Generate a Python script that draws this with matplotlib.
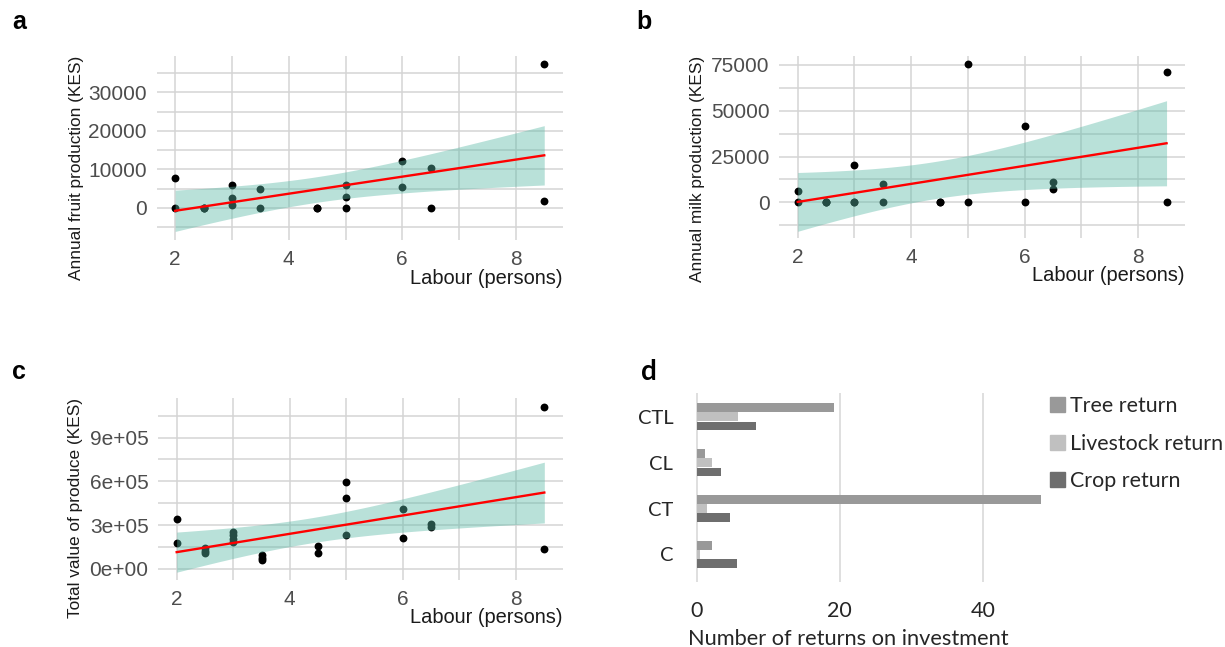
import math
import numpy as np
import matplotlib
matplotlib.use("Agg")
import matplotlib.pyplot as plt
from matplotlib.patches import Patch

# ---- data (overlapping zeros included) ----
# a: annual fruit production vs labour
fruit_x = [2, 2, 2.5, 2.5, 2.5, 3, 3, 3, 3.5, 3.5, 4.5, 4.5,
           5, 5, 5, 6, 6, 6.5, 6.5, 8.5, 8.5]
fruit_y = [7800, 0, 0, 0, 0, 5900, 2600, 700, 4860, 0, 0, 0,
           5900, 2860, 0, 12200, 5460, 10400, 0, 37300, 1730]

# b: annual milk production vs labour
milk_x = [2, 2, 2.5, 2.5, 2.5, 3, 3, 3, 3.5, 3.5, 4.5, 4.5,
          5, 5, 6, 6, 6.5, 6.5, 8.5, 8.5]
milk_y = [6200, 0, 0, 0, 0, 20400, 0, 0, 9800, 0, 0, 0,
          75400, 0, 41700, 0, 11300, 7100, 71400, 0]

# c: total value of produce vs labour
total_x = [2, 2, 2.5, 2.5, 2.5, 3, 3, 3, 3, 3.5, 3.5, 3.5, 4.5, 4.5,
           5, 5, 5, 6, 6, 6.5, 6.5, 8.5, 8.5]
total_y = [343000, 174000, 140000, 120000, 105000, 250000, 230000, 205000,
           180000, 95000, 75000, 60000, 156000, 105000, 598000, 488000,
           231000, 410000, 213000, 310000, 285000, 1108000, 133000]

# d: number of returns on investment
systems = ["C", "CT", "CL", "CTL"]
tree_ret = [2.2, 48.1, 1.2, 19.2]
livestock_ret = [0.45, 1.5, 2.1, 5.8]
crop_ret = [5.7, 4.7, 3.4, 8.3]

RIBBON = "#5ab8a5"
GRID = "#d4d4d4"
TICK_GREY = "#4d4d4d"
LATO = ["Lato", "DejaVu Sans"]


def t_crit(df, p=0.975):
    # student t quantile by numeric integration (no scipy here)
    ts = np.linspace(0, 12, 24001)
    c = math.gamma((df + 1) / 2) / (math.sqrt(df * math.pi) * math.gamma(df / 2))
    pdf = c * (1 + ts**2 / df) ** (-(df + 1) / 2)
    cdf = 0.5 + np.concatenate([[0], np.cumsum((pdf[1:] + pdf[:-1]) / 2 * np.diff(ts))])
    return np.interp(p, cdf, ts)


def lm_band(x, y, xs):
    x = np.asarray(x, float)
    y = np.asarray(y, float)
    n = len(x)
    b, a = np.polyfit(x, y, 1)
    fit = a + b * xs
    s = np.sqrt(np.sum((y - (a + b * x))**2) / (n - 2))
    se = s * np.sqrt(1 / n + (xs - x.mean())**2 / np.sum((x - x.mean())**2))
    t = t_crit(n - 2)
    return fit, fit - t * se, fit + t * se


def scatter_panel(ax, x, y, ylim, major, labels, ylabel, ylab_x):
    xs = np.linspace(min(x), max(x), 80)
    fit, lo, hi = lm_band(x, y, xs)
    ax.scatter(x, y, s=32, color="black", linewidths=0, zorder=2)
    ax.fill_between(xs, lo, hi, color=RIBBON, alpha=0.42, linewidth=0, zorder=3)
    ax.plot(xs, fit, color="red", lw=1.7, zorder=4)

    ax.set_xlim(1.675, 8.825)
    ax.set_ylim(*ylim)
    ax.set_xticks([2, 4, 6, 8])
    ax.set_xticks([3, 5, 7], minor=True)
    ax.set_yticks(major)
    ax.set_yticklabels(labels)
    step = major[1] - major[0]
    minor = np.arange(major[0] - step / 2, ylim[1], step)
    ax.set_yticks(minor[minor > ylim[0]], minor=True)

    ax.grid(which="both", color=GRID, lw=1.1, zorder=0)
    ax.set_axisbelow(True)
    for sp in ax.spines.values():
        sp.set_visible(False)
    ax.tick_params(which="both", length=0, labelsize=15, labelcolor=TICK_GREY, pad=7)

    ax.set_xlabel("Labour (persons)", loc="right", fontsize=14.4, color="#1a1a1a")
    ax.xaxis.set_label_coords(1.0, -0.155)
    ax.set_ylabel(ylabel, loc="top", fontsize=12.4, color="#1a1a1a")
    ax.yaxis.set_label_coords(ylab_x, 1.0)


plt.rcParams["font.family"] = ["Liberation Sans", "DejaVu Sans"]

W, H = 1225, 647
fig = plt.figure(figsize=(W / 100, H / 100), dpi=100)


def px_axes(left, top, right, bottom):
    return fig.add_axes([left / W, 1 - bottom / H, (right - left) / W, (bottom - top) / H])


ax_a = px_axes(156.7, 56, 562.7, 240)
ax_b = px_axes(779.3, 56, 1185, 238)
ax_c = px_axes(158.3, 398, 562.7, 580)
ax_d = px_axes(694, 393, 1045, 582)

scatter_panel(ax_a, fruit_x, fruit_y, (-8400, 39500), [0, 10000, 20000, 30000],
              ["0", "10000", "20000", "30000"], "Annual fruit production (KES)", -0.18)
scatter_panel(ax_b, milk_x, milk_y, (-19500, 79900), [0, 25000, 50000, 75000],
              ["0", "25000", "50000", "75000"], "Annual milk production (KES)", -0.183)
scatter_panel(ax_c, total_x, total_y, (-77600, 1172000), [0, 300000, 600000, 900000],
              ["0e+00", "3e+05", "6e+05", "9e+05"], "Total value of produce (KES)", -0.185)

# panel d: grouped horizontal bars
pos = np.arange(len(systems))
bh = 0.2
ax_d.barh(pos + bh, tree_ret, height=bh * 0.95, color="#999999", zorder=2)
ax_d.barh(pos, livestock_ret, height=bh * 0.95, color="#c0c0c0", zorder=2)
ax_d.barh(pos - bh, crop_ret, height=bh * 0.95, color="#6e6e6e", zorder=2)
ax_d.set_xlim(-0.38, 48.7)
ax_d.set_ylim(-0.6, 3.52)
ax_d.set_xticks([0, 20, 40])
ax_d.set_yticks(pos)
ax_d.set_yticklabels(systems)
ax_d.grid(axis="x", color="#d9d9d9", lw=1.2, zorder=0)
for sp in ax_d.spines.values():
    sp.set_visible(False)
ax_d.tick_params(length=0, labelcolor="#262626")
ax_d.tick_params(axis="x", pad=14, labelsize=15.5)
ax_d.tick_params(axis="y", pad=15, labelsize=14.5)
for lab in ax_d.get_xticklabels() + ax_d.get_yticklabels():
    lab.set_family(LATO)
ax_d.set_xlabel("Number of returns on investment", fontsize=15.7, family=LATO,
                color="#262626")
ax_d.xaxis.set_label_coords(0.4387, -0.247)

handles = [Patch(color="#999999"), Patch(color="#c0c0c0"), Patch(color="#6e6e6e")]
fig.legend(handles, ["Tree return", "Livestock return", "Crop return"],
           loc="upper left", bbox_to_anchor=(1050 / W, 1 - 396 / H), frameon=False,
           prop={"family": LATO, "size": 15.4}, borderpad=0, borderaxespad=0,
           handlelength=0.7, handleheight=0.7, handletextpad=0.25, labelspacing=0.82,
           labelcolor="#262626")

# panel letters
fig.text(12 / W, 1 - 22 / H, "a", fontsize=18, weight="bold", va="center")
fig.text(636 / W, 1 - 22 / H, "b", fontsize=18, weight="bold", va="center")
fig.text(12 / W, 1 - 372 / H, "c", fontsize=18, weight="bold", va="center")
fig.text(641 / W, 1 - 372 / H, "d", fontsize=20, weight="bold", va="center", family=LATO)

fig.savefig("out.png", dpi=100)
